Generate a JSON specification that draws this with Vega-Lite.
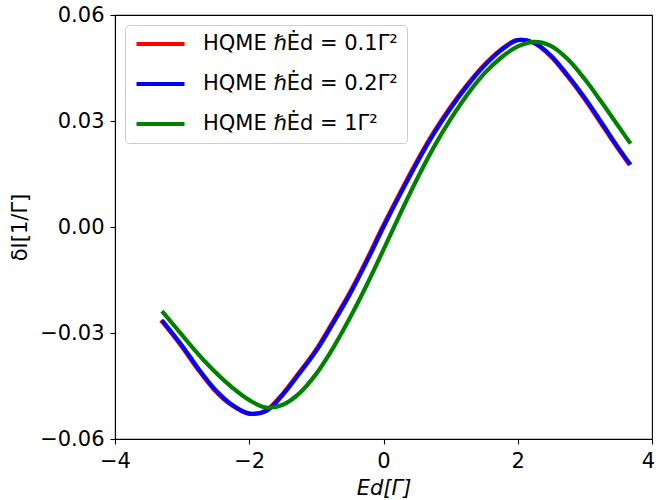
{
  "$schema": "https://vega.github.io/schema/vega-lite/v6.json",
  "width": 537,
  "height": 424,
  "autosize": {"type": "none"},
  "padding": {"left": 115, "top": 15, "right": 4, "bottom": 61},
  "background": "white",
  "config": {
    "font": "DejaVu Sans",
    "view": {"stroke": "black", "strokeWidth": 1.1},
    "axis": {
      "grid": false,
      "domainColor": "black",
      "domainWidth": 1.1,
      "tickColor": "black",
      "tickSize": 5,
      "tickWidth": 1.1,
      "labelColor": "black",
      "labelFontSize": 21,
      "labelFont": "DejaVu Sans",
      "labelFlush": false,
      "titleFont": "DejaVu Sans",
      "titleFontSize": 21,
      "titleFontWeight": "normal",
      "titleColor": "black"
    }
  },
  "data": {
    "values": [
      {"run": "0.1", "x": -3.315, "y": -0.0264},
      {"run": "0.1", "x": -3.015, "y": -0.0336},
      {"run": "0.1", "x": -2.765, "y": -0.0403},
      {"run": "0.1", "x": -2.515, "y": -0.0462},
      {"run": "0.1", "x": -2.265, "y": -0.0504},
      {"run": "0.1", "x": -2.015, "y": -0.0528},
      {"run": "0.1", "x": -1.765, "y": -0.0521},
      {"run": "0.1", "x": -1.515, "y": -0.0475},
      {"run": "0.1", "x": -1.265, "y": -0.0414},
      {"run": "0.1", "x": -1.015, "y": -0.0350},
      {"run": "0.1", "x": -0.765, "y": -0.0272},
      {"run": "0.1", "x": -0.515, "y": -0.0190},
      {"run": "0.1", "x": -0.265, "y": -0.0098},
      {"run": "0.1", "x": -0.015, "y": 0.0000},
      {"run": "0.1", "x": 0.235, "y": 0.0093},
      {"run": "0.1", "x": 0.485, "y": 0.0182},
      {"run": "0.1", "x": 0.735, "y": 0.0264},
      {"run": "0.1", "x": 0.985, "y": 0.0336},
      {"run": "0.1", "x": 1.235, "y": 0.0400},
      {"run": "0.1", "x": 1.485, "y": 0.0456},
      {"run": "0.1", "x": 1.735, "y": 0.0500},
      {"run": "0.1", "x": 1.985, "y": 0.0529},
      {"run": "0.1", "x": 2.235, "y": 0.0521},
      {"run": "0.1", "x": 2.485, "y": 0.0484},
      {"run": "0.1", "x": 2.735, "y": 0.0428},
      {"run": "0.1", "x": 2.985, "y": 0.0365},
      {"run": "0.1", "x": 3.235, "y": 0.0295},
      {"run": "0.1", "x": 3.485, "y": 0.0224},
      {"run": "0.1", "x": 3.665, "y": 0.0176},
      {"run": "0.2", "x": -3.30, "y": -0.0264},
      {"run": "0.2", "x": -3.00, "y": -0.0336},
      {"run": "0.2", "x": -2.75, "y": -0.0403},
      {"run": "0.2", "x": -2.50, "y": -0.0462},
      {"run": "0.2", "x": -2.25, "y": -0.0504},
      {"run": "0.2", "x": -2.00, "y": -0.0528},
      {"run": "0.2", "x": -1.75, "y": -0.0521},
      {"run": "0.2", "x": -1.50, "y": -0.0475},
      {"run": "0.2", "x": -1.25, "y": -0.0414},
      {"run": "0.2", "x": -1.00, "y": -0.0350},
      {"run": "0.2", "x": -0.75, "y": -0.0272},
      {"run": "0.2", "x": -0.50, "y": -0.0190},
      {"run": "0.2", "x": -0.25, "y": -0.0098},
      {"run": "0.2", "x": 0.00, "y": 0.0000},
      {"run": "0.2", "x": 0.25, "y": 0.0093},
      {"run": "0.2", "x": 0.50, "y": 0.0182},
      {"run": "0.2", "x": 0.75, "y": 0.0264},
      {"run": "0.2", "x": 1.00, "y": 0.0336},
      {"run": "0.2", "x": 1.25, "y": 0.0400},
      {"run": "0.2", "x": 1.50, "y": 0.0456},
      {"run": "0.2", "x": 1.75, "y": 0.0500},
      {"run": "0.2", "x": 2.00, "y": 0.0529},
      {"run": "0.2", "x": 2.25, "y": 0.0521},
      {"run": "0.2", "x": 2.50, "y": 0.0484},
      {"run": "0.2", "x": 2.75, "y": 0.0428},
      {"run": "0.2", "x": 3.00, "y": 0.0365},
      {"run": "0.2", "x": 3.25, "y": 0.0295},
      {"run": "0.2", "x": 3.50, "y": 0.0224},
      {"run": "0.2", "x": 3.68, "y": 0.0176},
      {"run": "1", "x": -3.30, "y": -0.0238},
      {"run": "1", "x": -3.00, "y": -0.0306},
      {"run": "1", "x": -2.75, "y": -0.0362},
      {"run": "1", "x": -2.50, "y": -0.0412},
      {"run": "1", "x": -2.25, "y": -0.0455},
      {"run": "1", "x": -2.00, "y": -0.0490},
      {"run": "1", "x": -1.75, "y": -0.0511},
      {"run": "1", "x": -1.50, "y": -0.0503},
      {"run": "1", "x": -1.25, "y": -0.0470},
      {"run": "1", "x": -1.00, "y": -0.0415},
      {"run": "1", "x": -0.75, "y": -0.0342},
      {"run": "1", "x": -0.50, "y": -0.0257},
      {"run": "1", "x": -0.25, "y": -0.0164},
      {"run": "1", "x": 0.00, "y": -0.0064},
      {"run": "1", "x": 0.25, "y": 0.0038},
      {"run": "1", "x": 0.50, "y": 0.0136},
      {"run": "1", "x": 0.75, "y": 0.0226},
      {"run": "1", "x": 1.00, "y": 0.0305},
      {"run": "1", "x": 1.25, "y": 0.0375},
      {"run": "1", "x": 1.50, "y": 0.0434},
      {"run": "1", "x": 1.75, "y": 0.0479},
      {"run": "1", "x": 2.00, "y": 0.0511},
      {"run": "1", "x": 2.25, "y": 0.0524},
      {"run": "1", "x": 2.50, "y": 0.0512},
      {"run": "1", "x": 2.75, "y": 0.0474},
      {"run": "1", "x": 3.00, "y": 0.0418},
      {"run": "1", "x": 3.25, "y": 0.0353},
      {"run": "1", "x": 3.50, "y": 0.0285},
      {"run": "1", "x": 3.68, "y": 0.0236}
    ]
  },
  "mark": {"type": "line", "strokeWidth": 4.2, "interpolate": "catmull-rom", "strokeCap": "butt"},
  "encoding": {
    "x": {
      "field": "x",
      "type": "quantitative",
      "scale": {"domain": [-4, 4], "nice": false, "zero": false},
      "axis": {
        "values": [-4, -2, 0, 2, 4],
        "format": "d",
        "labelPadding": 6,
        "labelOffset": {"condition": {"test": "datum.value == 4", "value": -4}, "value": 0},
        "title": "Ed[Γ]",
        "titleFontStyle": "italic",
        "titlePadding": 6
      }
    },
    "y": {
      "field": "y",
      "type": "quantitative",
      "scale": {"domain": [-0.06, 0.06], "nice": false, "zero": false},
      "axis": {"values": [-0.06, -0.03, 0, 0.03, 0.06], "format": ".2f", "labelPadding": 6, "title": "δI[1/Γ]", "titlePadding": 9}
    },
    "color": {
      "field": "run",
      "type": "nominal",
      "scale": {"domain": ["0.1", "0.2", "1"], "range": ["#ff0000", "#0000ff", "#008000"]},
      "legend": {
        "title": null,
        "orient": "top-left",
        "offset": 10,
        "labelExpr": "'HQME ℏĖd = ' + datum.label + 'Γ²'",
        "labelFontSize": 21,
        "labelFont": "DejaVu Sans",
        "labelColor": "black",
        "labelLimit": 400,
        "labelOffset": 16,
        "symbolType": "stroke",
        "symbolSize": 2304,
        "symbolStrokeWidth": 4.2,
        "clipHeight": 20,
        "rowPadding": 19,
        "padding": 9,
        "fillColor": "white",
        "strokeColor": "#cccccc",
        "cornerRadius": 4
      }
    }
  }
}
